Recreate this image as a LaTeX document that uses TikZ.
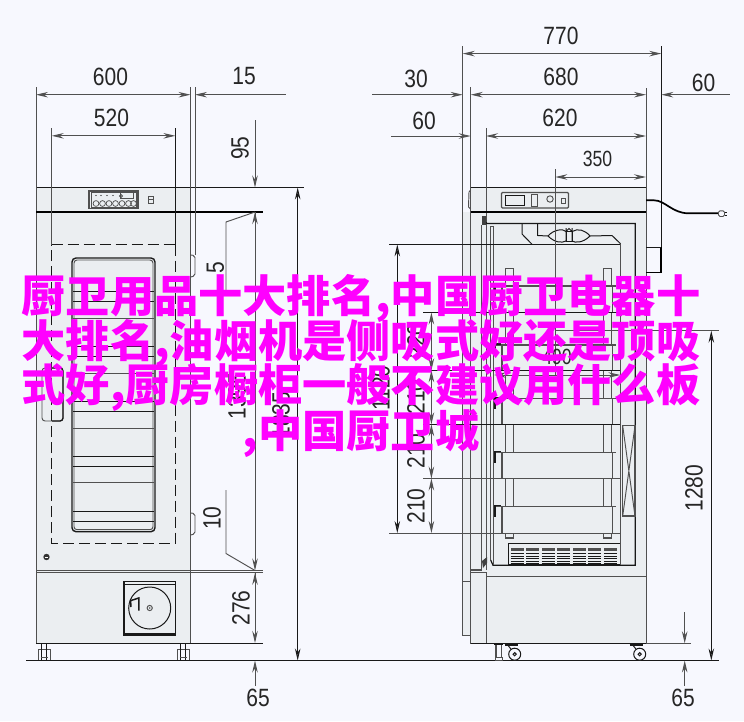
\documentclass[tikz,border=0pt]{standalone}
\usepackage{fontspec}
\setmainfont{Liberation Sans}
\newfontfamily\cjk{Noto Sans CJK SC}
\usetikzlibrary{arrows.meta}
\definecolor{bgc}{HTML}{F7F8FE}
\definecolor{bodyc}{HTML}{EBEEF1}
\definecolor{greyl}{HTML}{505050}
\definecolor{pinkc}{HTML}{FF00FF}
\tikzset{
 thinl/.style={draw=greyl,line width=.95pt},
 darkl/.style={draw=black!90,line width=1pt},
 heavy/.style={draw=black,line width=1.7pt},
 dimtip/.tip={Stealth[length=12pt,width=5.5pt,inset=4pt,fill=bgc!40!black]},
 dimh/.style={thinl,{dimtip}-{dimtip}},
 dimr/.style={thinl,-{dimtip}},
 diml/.style={thinl,{dimtip}-},
 dimb/.style={draw=black!90,line width=.9pt,-{dimtip}},
 lab/.style={inner sep=0pt,text=black!85,font=\fontsize{25}{25}\selectfont,xscale=.84},
 labv/.style={inner sep=0pt,text=black!85,font=\fontsize{25}{25}\selectfont,rotate=90,xscale=.84},
 lab2/.style={inner sep=0pt,text=black!85,font=\fontsize{22}{22}\selectfont,xscale=.8},
 pinkt/.style={inner sep=0pt,text=pinkc,font=\cjk\bfseries\fontsize{44.2}{45}\selectfont},
}
\begin{document}
\begin{tikzpicture}[x=1pt,y=-1pt]
\useasboundingbox (0,0) rectangle (744,721);
\fill[bgc] (0,0) rectangle (744,721);

% ---------- left (front) view body
\fill[bodyc] (36,187.5) rectangle (190.5,643);
\draw[thinl] (36,187.5) -- (36,643) (190.5,187.5) -- (190.5,643);
\draw[darkl] (36,187.5) -- (304,187.5);
\draw[heavy] (36,212) -- (263,212);
\draw[thinl,line width=1.2pt] (36,570.5) -- (263,570.5) (36,572.8) -- (263,572.8);
\draw[darkl] (36,643.3) -- (263,643.3);
% extension lines
\draw[thinl] (36,87) -- (36,187.5) (190.5,87) -- (190.5,187.5) (195,87) -- (195,255);
\draw[thinl] (51.7,128) -- (51.7,244.5);
\draw[darkl] (175.4,128) -- (175.4,244.5);
% dashed window
\draw[darkl,dash pattern=on 11pt off 5pt] (51.7,244.5) -- (175.4,244.5) (175.4,244.5) -- (175.4,543) -- (51.7,543) -- (51.7,244.5);
% window
\draw[darkl,line width=1.4pt,rounded corners=4pt,fill=bodyc] (72,258) rectangle (155,531.7);
\draw[thinl,rounded corners=3pt] (74,260) rectangle (153,529.7);
\foreach \y in {291.7,346.7,401.7,456,511}{\draw[darkl] (73,\y) -- (154,\y);}
\foreach \y in {301.7,356.7,411.7,466,521}{\draw[darkl] (73,\y) -- (154,\y);}
\foreach \y in {318,373,428,482.7}{\draw[thinl] (73,\y) -- (154,\y);}
% handle
\draw[thinl,rounded corners=3pt] (42,368) rectangle (63,421);
\draw[darkl,line width=1.3pt,rounded corners=3pt] (52,368) -- (63,368) -- (63,421) -- (52,421);
% side hinges
\draw[thinl,rounded corners=2pt] (190.5,255) -- (195,255.5) -- (195,276) -- (190.5,277);
\draw[thinl,rounded corners=2pt] (190.5,513) -- (195,513.5) -- (195,534) -- (190.5,535);
% control panel
\draw[thinl,fill=bodyc,line width=1.2pt] (89,191) rectangle (138,208.5);
\draw[thinl] (91,192.5) rectangle (136.5,207);
\foreach \x in {96,101,107,113}{\fill[black] (\x,195.5) circle (.7);}
\draw[thinl] (120,192.5) rectangle (133.5,198);
\draw[thinl] (121,196) circle (1.5);
\foreach \x in {96,102.5,109,115.5,122,128.5,133.5}{\draw[thinl,line width=.7pt] (\x,203.5) circle (2.9);}
\draw[thinl] (148.5,196.5) rectangle (153.5,203) (148.5,199.7) -- (153.5,199.7);
% screw
\fill[black!80] (46.5,557) circle (3.2);
\draw[white,line width=.6pt] (44.8,557) -- (48.2,557);
% bottom square
\draw[darkl,line width=1.3pt] (124,581.5) rectangle (175.5,635);
\draw[darkl] (124,584.5) -- (175.5,584.5) (124,633) -- (175.5,633);
\draw[darkl] (149.7,608) circle (21);
\draw[thinl] (149.7,608) circle (2.6);
\fill[greyl] (149.7,608) circle (.9);
\draw[darkl,line width=1.5pt] (131,607) -- (130.5,600) (138.8,610.5) -- (138.8,598) -- (131,600.5);
% left casters
\foreach \x in {44,183}{
 \draw[thinl] (\x-6,649) rectangle (\x+6,660);
 \draw[darkl] (\x-2.5,644) -- (\x-2.5,660) (\x+2.5,644) -- (\x+2.5,660);
 \draw[thinl] (\x-3.5,657) -- (\x+3.5,657);
}
% floor
\draw[darkl] (26,660.5) -- (719,660.5);

% ---------- right (side) view body
\fill[bodyc] (470.7,187.5) rectangle (646,643);
\draw[darkl] (470.7,187.5) -- (646,187.5);
\fill[bodyc] (463,212) rectangle (470.7,635);
\draw[thinl] (470.7,87) -- (470.7,643) (646,88) -- (646,643);
\draw[thinl] (462.7,46) -- (462.7,635) -- (470.7,635);
\draw[thinl] (462.7,581.7) -- (470.7,581.7);
\draw[darkl] (661.3,46) -- (661.3,247);
\draw[heavy] (661.3,247) -- (661.3,272.5) -- (646,272.5);
\draw[darkl,line width=1.3pt] (646,247.3) -- (661.3,247.3);
\draw[thinl] (486,128) -- (486,570);
\draw[heavy] (470.7,212) -- (646,212);
\draw[thinl] (470.7,190) -- (469,192) -- (468.5,207) -- (470.7,209);
% panel
\draw[thinl,line width=1.1pt,rounded corners=1pt] (501.5,192.5) rectangle (568.5,208);
\draw[darkl] (505,195) rectangle (524,205);
\draw[thinl] (531,194.5) rectangle (537.5,206);
\draw[thinl] (550,199) circle (3.2);
\draw[thinl] (561,198) rectangle (565,203);
% cable
\draw[heavy] (646,200.3) -- (654,200.3) .. controls (665,200.3) and (672,213) .. (688,213.3) -- (718.5,213.3);
\draw[thinl,fill=bgc,rounded corners=1.5pt] (718.5,210.8) rectangle (724.5,216.5);
\draw[darkl] (724.5,212) -- (727,212) (724.5,215) -- (727,215);
% inner cabinet
\draw[darkl,line width=1.2pt] (484,221) -- (487,223.4) -- (635.3,223.4) -- (635.3,565.3) -- (493,565.3) -- (490.7,560);
\draw[thinl] (490.7,226) -- (490.7,560) (493,226) -- (493,565.3) (490.7,226) -- (493,226) (620.3,243) -- (620.3,565.3);
\draw[thinl,line width=1.1pt] (481.7,225) -- (481.7,570) -- (470.7,570);
% hinges dark
\fill[black!75] (482,216) rectangle (486,225);
\fill[black!75] (482,561) -- (487,557) -- (487,563) -- (483,568) -- cycle;
% upper duct + lamp
\draw[darkl] (522,223.4) -- (522,234) -- (532,244.3);
\draw[darkl] (537.7,223.4) -- (537.7,235.5) -- (548,236);
\draw[darkl] (548,236) .. controls (553,230) and (563,228) .. (566,231.5) -- (566,241) .. controls (562,243) and (555,243) .. (548,236);
\draw[darkl] (590,236) .. controls (585,230) and (578,228) .. (572,231.5) -- (572,241) .. controls (575,243) and (583,243) .. (590,236);
\draw[darkl] (566,231.5) rectangle (572,241);
\draw[darkl] (566,232) -- (566,228) (572,232) -- (572,228) (566.5,231) -- (569,228.5) -- (571.5,231);
\draw[darkl] (590,236) -- (612,235.5) -- (620.3,243.5);
% shelves
\foreach \x/\w in {505.3/8.4,603.7/7.6}{
 \draw[thinl,line width=1.1pt] (\x,268.7) rectangle (\x+\w,538);
}
\foreach \t/\b in {286/312.5,345/370,398.5/424.3,452.7/478.3,506.7/532.7}{
 \fill[bodyc] (502,\t) rectangle (612.7,\b);
 \draw[thinl,line width=1.1pt] (502,\t) -- (502,\b) (612.7,\t) -- (612.7,\b);
 \draw[thinl,line width=1.1pt] (496,\t) -- (616,\t);
 \draw[darkl,line width=1.2pt] (495,\t+10) -- (495,\t-1) -- (501,\t-1);
}
% dimension reference lines crossing the shelves
\draw[darkl] (423,312.5) -- (620.3,312.5);
\draw[darkl] (423,370.3) -- (620.3,370.3);
\draw[darkl] (423,424.3) -- (620.3,424.3);
\draw[thinl] (423,478.5) -- (620.3,478.5);
\draw[thinl] (389,533) -- (620.3,533);
\draw[darkl] (389,244.4) -- (620.3,244.4);
\draw[thinl] (555.3,169) -- (555.3,375);
% fan X box
\draw[thinl,line width=1.1pt] (622.7,425.7) rectangle (635,516);
\draw[thinl] (622.7,425.7) -- (635,516) (635,425.7) -- (622.7,516);
% louvre
\draw[darkl,line width=1.2pt] (508.7,565) -- (508.7,543.3) -- (620.3,543.3);
\draw[darkl,line width=1.3pt] (508.7,565) -- (620.3,565);
\foreach \i in {0,...,6}{
 \pgfmathsetmacro{\xa}{510.6+15.55*\i}
 \fill[greyl] (\xa,548.3) rectangle (\xa+13,551);
 \foreach \y in {553.5,556,558.5,561,563.3}{\draw[darkl,line width=.8pt] (\xa,\y) -- (\xa+13,\y);}
}
% door side parts
\draw[thinl,fill=bodyc] (470.7,572.8) rectangle (486,643);
\draw[thinl] (486,576.7) -- (646,576.7);
\draw[darkl] (470.7,643.3) -- (646,643.3);
\draw[thinl] (646,643.3) -- (691,643.3);
\draw[thinl] (470.7,570) -- (482,570);
% casters right
\foreach \x in {514.7,639.7}{
 \draw[darkl,line width=1.4pt] (\x-10,645) -- (\x+3,645);
 \draw[darkl] (\x-7,645) -- (\x-3,650);
 \draw[darkl,fill=bgc] (\x,654.2) circle (6);
 \draw[darkl] (\x,654.2) circle (1.6);
}
% adjuster
\draw[thinl,line width=1.1pt] (496,644) -- (496,657) (501.5,644) -- (501.5,657);
\draw[thinl] (495,657) rectangle (502.7,660.5);
\draw[darkl,line width=1.2pt] (494,644) -- (503,644);

% ---------- dimensions, left view
\draw[dimh] (36,94.7) -- (190.5,94.7);
\draw[diml] (195,94.7) -- (286,94.7);
\draw[dimh] (51.7,135.8) -- (175.4,135.8);
\draw[dimr] (255,120) -- (255,187.5);
\draw[dimr] (255,238) -- (255,212);
\draw[thinl] (255,212) -- (226,222) -- (226,290);
\draw[thinl] (226,490) -- (226,553.5) -- (255,570.5);
\draw[dimr] (255,212) -- (255,570.5);
\draw[dimr] (255,612) -- (255,572.8);
\draw[dimr] (255,572.8) -- (255,643);
\draw[dimr] (255,686) -- (255,660.5);
\draw[dimb] (297.7,230) -- (297.7,187.5);
\draw[dimb] (297.7,230) -- (297.7,660.5);
% ---------- dimensions, right view
\draw[dimh] (462.7,53.6) -- (661.3,53.6);
\draw[dimr] (372,94.7) -- (462.7,94.7);
\draw[diml] (470.7,94.7) -- (495,94.7);
\draw[thinl] (495,94.7) -- (620,94.7);
\draw[dimr] (620,94.7) -- (646,94.7);
\draw[diml] (661.3,94.7) -- (730,94.7);
\draw[dimr] (391,136) -- (470.7,136);
\draw[diml] (486,136) -- (512,136);
\draw[thinl] (512,136) -- (620,136);
\draw[dimr] (620,136) -- (646,136);
\draw[dimh] (555.3,177) -- (646,177);
\draw[dimh] (494,375) -- (620.3,375);
\draw[dimb] (397.3,300) -- (397.3,244.4);
\draw[dimb] (397.3,300) -- (397.3,533);
\foreach \a/\b in {312.5/370.3,370.3/424.3,424.3/478.5,478.5/533}{
 \draw[dimh] (431.4,\a) -- (431.4,\b);
}
\draw[thinl] (555,330.7) -- (719,330.7);
\draw[dimb] (711.3,370) -- (711.3,330.7);
\draw[dimb] (711.3,370) -- (711.3,660.5);
\draw[dimr] (684.7,612) -- (684.7,643.3);
\draw[dimr] (684.7,686) -- (684.7,660.5);

% ---------- labels
\node[lab] (l600) at (110.5,76.5) {600};
\node[lab] (l15)  at (244,76.5) {15};
\node[lab] (l520) at (111.5,118) {520};
\node[labv] (l95) at (240,148) {95};
\node[labv] (l5)  at (215.5,268) {5};
\node[labv] (l10) at (212,518) {10};
\node[labv] (l276) at (241,608) {276};
\node[lab] (l65a) at (258,698) {65};
\node[labv] (l1395) at (237,396) {1395};
\node[labv] (l1835) at (281,415) {1835};
\node[lab] (l770) at (561,35.5) {770};
\node[lab] (l30)  at (416,78.5) {30};
\node[lab] (l680) at (561,76.5) {680};
\node[lab] (l60r) at (703.5,82.5) {60};
\node[lab] (l60l) at (424,121) {60};
\node[lab] (l620) at (560,118) {620};
\node[lab2] (l350) at (597.5,158.5) {350};
\node[lab2] (l490) at (557,357) {490};
\node[labv] (l220) at (416,341) {220};
\node[labv] (l210a) at (416,397) {210};
\node[labv] (l210b) at (416,451) {210};
\node[labv] (l210c) at (416,506) {210};
\node[labv] (l1120) at (381,388) {1120};
\node[labv] (l1280) at (694,488) {1280};
\node[lab] (l65b) at (683,698) {65};

% ---------- overlaid caption
\node[pinkt] (t1) at (361,298) {厨卫用品十大排名,中国厨卫电器十};
\node[pinkt] (t2) at (361,343) {大排名,油烟机是侧吸式好还是顶吸};
\node[pinkt] (t3) at (361,388) {式好,厨房橱柜一般不建议用什么板};
\node[pinkt] (t4) at (361,433) {,中国厨卫城};
\end{tikzpicture}
\end{document}
